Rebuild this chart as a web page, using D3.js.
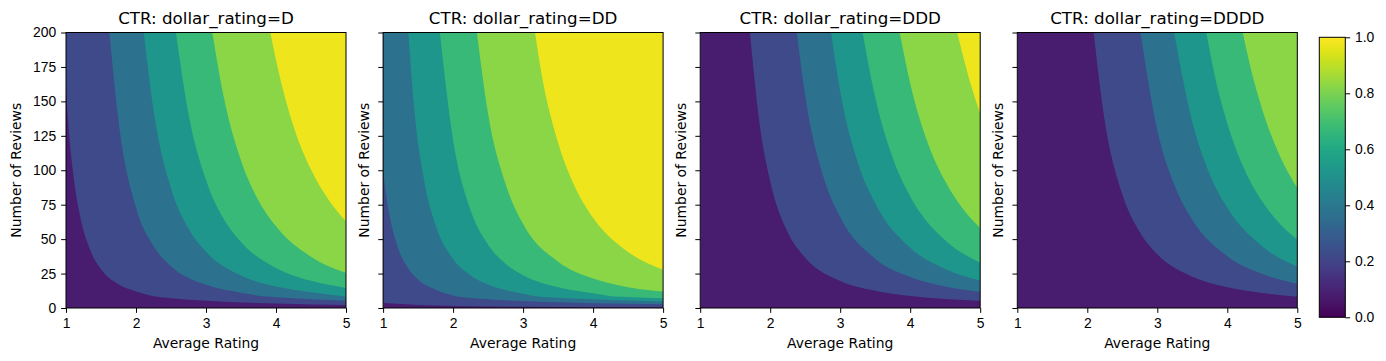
<!DOCTYPE html>
<html>
<head>
<meta charset="utf-8">
<script src="https://cdn.jsdelivr.net/npm/d3@7"></script>
<style>
body { margin: 0; background: #fff; }
svg { display: block; font-family: "DejaVu Sans", sans-serif; }
</style>
</head>
<body>
<div id="chart"></div>
<script>
// panels and contour levels
const dollarRatings = ["D", "DD", "DDD", "DDDD"];
const levels = [0, 0.15, 0.3, 0.45, 0.6, 0.75, 0.9, 1.05];
const ratingRange = [1, 5];
const reviewRange = [0, 200];
const xTicks = [1, 2, 3, 4, 5];
const yTicks = [0, 25, 50, 75, 100, 125, 150, 175, 200];
const cbTicks = [0, 0.2, 0.4, 0.6, 0.8, 1.0];

// level boundaries (0.15 ... 0.9) as [avg rating, reviews]
const boundsD = [
	[[1, 158], [1.05, 123], [1.1, 98.7], [1.2, 66.9], [1.35, 41.5], [1.5, 28.2], [1.75, 17.2], [2, 11.9], [2.27, 8.3], [2.5, 7.1], [3, 5.3], [3.5, 4.0], [4, 3.2], [4.5, 2.6], [5, 2.1]],
	[[1.62, 200], [1.75, 136], [2, 73], [2.25, 45], [2.5, 30.3], [3, 16.8], [3.5, 11.1], [3.86, 8.3], [4, 7.8], [4.5, 6.3], [5, 5.3]],
	[[2.11, 200], [2.25, 144], [2.5, 87], [2.75, 57.7], [3, 40.8], [3.5, 23.6], [4, 15.6], [4.5, 11.5], [5, 8.4]],
	[[2.57, 200], [2.75, 141], [3, 93], [3.25, 65], [3.5, 48], [4, 29.1], [4.5, 19.7], [5, 14.6]],
	[[3.09, 200], [3.25, 154], [3.5, 107], [3.75, 78], [4, 59.3], [4.5, 37.2], [5, 25.5]],
	[[3.92, 200], [4, 180], [4.25, 132], [4.5, 100.5], [4.75, 78.6], [5, 62.9]]
];
const boundsDD = [
	[[1, 3.6], [1.5, 2.2], [2, 1.5], [3, 0.86], [4, 0.59], [5, 0.45]],
	[[1, 99.6], [1.05, 79.7], [1.1, 65.2], [1.2, 45.6], [1.35, 29.4], [1.5, 20.6], [1.75, 13.3], [2, 9.1], [2.06, 8.3], [2.5, 6.4], [3, 5.0], [3.5, 4.1], [4, 3.4], [4.5, 3.0], [5, 2.65]],
	[[1.36, 200], [1.45, 142], [1.6, 89], [1.75, 60], [2, 35.5], [2.25, 23.6], [2.5, 17], [3, 10.4], [3.22, 8.3], [3.5, 7.5], [4, 6.3], [4.5, 5.4], [5, 4.8]],
	[[1.81, 200], [2, 122], [2.25, 71], [2.5, 46], [2.75, 32.1], [3, 23.8], [3.5, 15], [4, 10.7], [4.31, 8.3], [4.5, 7.9], [5, 7.0]],
	[[2.34, 200], [2.5, 141], [2.75, 90], [3, 61], [3.5, 33.6], [4, 21.4], [4.5, 15.1], [5, 11.9]],
	[[3.17, 200], [3.25, 174], [3.5, 120], [3.75, 87], [4, 65.5], [4.5, 40.7], [5, 27.7]]
];
const boundsDDD = [
	[[1.71, 200], [1.85, 133], [2, 92], [2.25, 55], [2.5, 36.5], [3, 19.6], [3.5, 12.5], [4, 8.7], [4.5, 6.6], [5, 5.2]],
	[[2.38, 200], [2.5, 154], [2.75, 97], [3, 66], [3.5, 35.8], [4, 22.5], [4.5, 15.6], [5, 11.8]],
	[[2.87, 200], [3, 157.5], [3.25, 106], [3.5, 76], [4, 43.7], [4.5, 28.3], [5, 19.9]],
	[[3.32, 200], [3.5, 153], [3.75, 109], [4, 81], [4.5, 49.2], [5, 32.9]],
	[[3.85, 200], [4, 163], [4.25, 120], [4.5, 92], [4.75, 72.2], [5, 58.1]],
	[[4.67, 200], [4.75, 184], [4.85, 165], [5, 141]]
];
const boundsDDDD = [
	[[2.09, 200], [2.25, 135.5], [2.5, 82.5], [2.75, 55], [3, 39], [3.5, 22.7], [4, 15], [4.5, 10.8], [5, 8.2]],
	[[2.76, 200], [3, 129], [3.25, 88.6], [3.5, 64], [4, 37.6], [4.5, 24.7], [5, 17.6]],
	[[3.24, 200], [3.5, 135], [3.75, 97], [4, 72.7], [4.5, 44.7], [5, 30.2]],
	[[3.7, 200], [3.85, 162], [4, 134], [4.25, 100], [4.5, 77.3], [4.75, 61.2], [5, 49.6]],
	[[4.22, 200], [4.35, 171], [4.5, 144], [4.75, 110.5], [5, 87.1]],
	[]
];
const panelBounds = [boundsD, boundsDD, boundsDDD, boundsDDDD];

// layout
const W = 1386, H = 361;
const plotTop = 32.5, plotH = 275.5, plotW = 280;
const plotLefts = [66, 383.1, 700.2, 1017.3];
const cb = { x: 1319.3, y: 37.3, w: 26, h: 280 };
const tickLen = 4.86;
const tickFont = "13.9px", titleFont = "16.7px";

const svg = d3.select("#chart").append("svg")
	.attr("width", W)
	.attr("height", H);
const defs = svg.append("defs");

const x = d3.scaleLinear().domain(ratingRange).range([0, plotW]);
const y = d3.scaleLinear().domain(reviewRange).range([plotH, 0]);
const color = d3.scaleSequential(d3.interpolateViridis).domain([0, 1]);
const bandColor = k => color((levels[k] + levels[k + 1]) / 2);

const line = d3.line()
	.x(d => x(d[0]))
	.y(d => y(d[1]))
	.curve(d3.curveMonotoneX);

panelBounds.forEach((bounds, i) => {
	const g = svg.append("g")
		.attr("transform", "translate(" + plotLefts[i] + "," + plotTop + ")");

	defs.append("clipPath").attr("id", "clip" + i)
		.append("rect")
		.attr("width", plotW)
		.attr("height", plotH);

	const plot = g.append("g").attr("clip-path", "url(#clip" + i + ")");

	// lowest band fills the whole area, each level paints its region above-right
	plot.append("rect")
		.attr("width", plotW)
		.attr("height", plotH)
		.attr("fill", bandColor(0));

	bounds.forEach((pts, k) => {
		if (!pts.length) return;
		const xMax = x(ratingRange[1]), yMax = y(reviewRange[1]);
		const d = line(pts) + "L" + xMax + "," + yMax + "L" + x(pts[0][0]) + "," + yMax + "Z";
		plot.append("path")
			.attr("d", d)
			.attr("fill", bandColor(k + 1));
	});

	// x axis
	const xa = g.append("g")
		.attr("transform", "translate(0," + plotH + ")")
		.call(d3.axisBottom(x).tickValues(xTicks).tickFormat(d3.format("d"))
			.tickSize(tickLen).tickSizeOuter(0).tickPadding(5));
	xa.select(".domain").remove();
	xa.selectAll("text").style("font-size", tickFont).attr("fill", "#000");

	// y axis (labels only on first panel)
	const ya = g.append("g")
		.call(d3.axisLeft(y).tickValues(yTicks)
			.tickFormat(i === 0 ? d3.format("d") : "")
			.tickSize(tickLen).tickSizeOuter(0).tickPadding(4.86));
	ya.select(".domain").remove();
	ya.selectAll("text").style("font-size", tickFont).attr("fill", "#000");

	g.append("rect")
		.attr("width", plotW)
		.attr("height", plotH)
		.attr("fill", "none")
		.attr("stroke", "#000")
		.attr("stroke-width", 1);

	g.append("text")
		.attr("x", plotW / 2)
		.attr("y", -8.3)
		.attr("text-anchor", "middle")
		.style("font-size", titleFont)
		.text("CTR: dollar_rating=" + dollarRatings[i]);

	g.append("text")
		.attr("x", plotW / 2)
		.attr("y", plotH + 40)
		.attr("text-anchor", "middle")
		.style("font-size", tickFont)
		.text("Average Rating");

	const labelOff = i === 0 ? 45.5 : 14.6;
	g.append("text")
		.attr("transform", "translate(" + (-labelOff) + "," + (plotH / 2) + ") rotate(-90)")
		.attr("text-anchor", "middle")
		.style("font-size", tickFont)
		.text("Number of Reviews");
});

// colorbar
const grad = defs.append("linearGradient")
	.attr("id", "cbgrad")
	.attr("x1", 0).attr("y1", 1).attr("x2", 0).attr("y2", 0);
d3.range(0, 1.0001, 0.02).forEach(t => {
	grad.append("stop").attr("offset", t).attr("stop-color", color(t));
});

const cy = d3.scaleLinear().domain([0, 1]).range([cb.h, 0]);
const cbg = svg.append("g").attr("transform", "translate(" + cb.x + "," + cb.y + ")");
cbg.append("rect")
	.attr("width", cb.w)
	.attr("height", cb.h)
	.attr("fill", "url(#cbgrad)")
	.attr("stroke", "#000")
	.attr("stroke-width", 1);
const ca = cbg.append("g")
	.attr("transform", "translate(" + cb.w + ",0)")
	.call(d3.axisRight(cy).tickValues(cbTicks).tickFormat(d3.format(".1f"))
		.tickSize(tickLen).tickSizeOuter(0).tickPadding(4.86));
ca.select(".domain").remove();
ca.selectAll("text").style("font-size", tickFont).attr("fill", "#000");
</script>
</body>
</html>
